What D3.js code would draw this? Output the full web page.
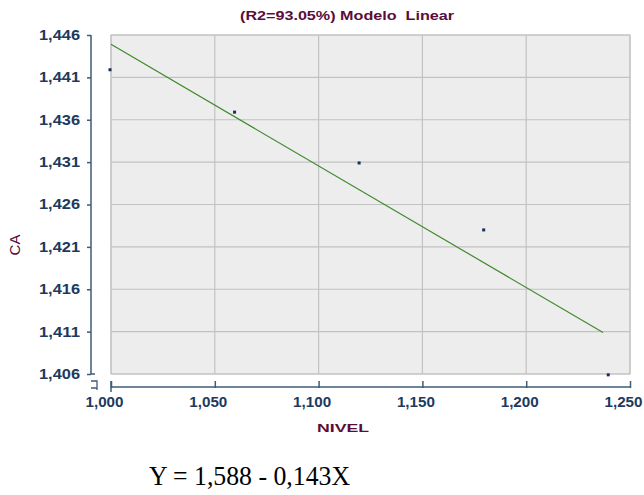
<!DOCTYPE html>
<html><head><meta charset="utf-8">
<script src="https://cdn.jsdelivr.net/npm/d3@7"></script>
<style>body{margin:0;background:#fff}svg{display:block}text{white-space:pre}</style>
</head><body>
<script>
const nivel = [1.000, 1.060, 1.120, 1.180, 1.240];
const ca = [1.4419, 1.4369, 1.4309, 1.4230, 1.4059];
const fitX = [1.000, 1.237];
const fitY = [1.4449, 1.4109];
const yTicks = [1.406, 1.411, 1.416, 1.421, 1.426, 1.431, 1.436, 1.441, 1.446];
const xTicks = [1.000, 1.050, 1.100, 1.150, 1.200, 1.250];
const title = "(R2=93.05%) Modelo  Linear";
const xLabel = "NIVEL", yLabel = "CA";
const equation = "Y = 1,588 - 0,143X";

const W = 644, H = 495;
const svg = d3.select("body").append("svg").attr("width", W).attr("height", H);
const x = d3.scaleLinear().domain([1.0, 1.25]).range([111, 630]);
const y = d3.scaleLinear().domain([1.406, 1.446]).range([374, 35]);
const fmt = v => d3.format(".3f")(v).replace(".", ",");
const maroon = "#5a0d3a", axisC = "#3e5b7a", labC = "#1d3a5e";

// plot background
svg.append("rect").attr("x", x(1.0)).attr("y", y(1.446)).attr("width", x(1.25) - x(1.0))
  .attr("height", y(1.406) - y(1.446)).attr("fill", "#ededed").attr("stroke", "#c2c2c2");
// grid
svg.append("g").selectAll("line").data(yTicks).join("line")
  .attr("x1", x(1.0)).attr("x2", x(1.25)).attr("y1", d => y(d)).attr("y2", d => y(d))
  .attr("stroke", "#c2c2c2").attr("stroke-width", 1.2);
svg.append("g").selectAll("line").data(xTicks).join("line")
  .attr("x1", d => x(d)).attr("x2", d => x(d)).attr("y1", y(1.446)).attr("y2", y(1.406))
  .attr("stroke", "#c2c2c2").attr("stroke-width", 1.2);

// y axis
const yAxis = svg.append("g").attr("transform", "translate(91,0)")
  .call(d3.axisLeft(y).tickValues(yTicks).tickSize(4).tickFormat(fmt));
yAxis.select(".domain").attr("stroke", axisC).attr("stroke-width", 1.5).attr("d", `M0,${y(1.446)}V${y(1.406)}`);
yAxis.selectAll(".tick line").attr("stroke", axisC).attr("stroke-width", 1.5);
yAxis.selectAll(".tick text").attr("x", -11).attr("fill", labC)
  .attr("font-family", "Arial, 'Liberation Sans', sans-serif").attr("font-weight", "bold").attr("font-size", 14)
  .attr("textLength", 41).attr("lengthAdjust", "spacingAndGlyphs");
yAxis.append("line").attr("x1", 0).attr("x2", 4).attr("y1", y(1.406)).attr("y2", y(1.406))
  .attr("stroke", axisC).attr("stroke-width", 1.5);

// x axis
const xAxis = svg.append("g").attr("transform", "translate(0,387)")
  .call(d3.axisBottom(x).tickValues(xTicks).tickSize(-6).tickFormat(fmt));
xAxis.select(".domain").attr("stroke", axisC).attr("stroke-width", 1.5).attr("d", `M${x(1.0)},0H${x(1.25)}`);
xAxis.selectAll(".tick line").attr("stroke", axisC).attr("stroke-width", 1.5).attr("y2", -6).attr("y1", 1);
xAxis.selectAll(".tick text").attr("y", 10).attr("dx", -7).attr("fill", labC)
  .attr("font-family", "Arial, 'Liberation Sans', sans-serif").attr("font-weight", "bold").attr("font-size", 14)
  .attr("textLength", 38).attr("lengthAdjust", "spacingAndGlyphs");
xAxis.append("line").attr("x1", x(1.0)).attr("x2", x(1.0)).attr("y1", -6).attr("y2", 5)
  .attr("stroke", axisC).attr("stroke-width", 1.5);
// axis break marks
svg.append("path").attr("d", "M91,381H97V387 M91,388H97 M97,384V390")
  .attr("fill", "none").attr("stroke", axisC).attr("stroke-width", 1.3);

// regression line
svg.append("path").datum(fitX.map((v, i) => [v, fitY[i]]))
  .attr("d", d3.line().x(d => x(d[0])).y(d => y(d[1])))
  .attr("fill", "none").attr("stroke", "#3f8a2c").attr("stroke-width", 1.2);

// points
svg.append("g").selectAll("rect").data(nivel.map((v, i) => [v, ca[i]])).join("rect")
  .attr("x", d => x(d[0]) - 2.5).attr("y", d => y(d[1]) - 1.5).attr("width", 3).attr("height", 3)
  .attr("fill", "#1b2f5e");

// title and labels
svg.append("text").attr("x", 347).attr("y", 20).attr("text-anchor", "middle")
  .attr("font-family", "Arial, 'Liberation Sans', sans-serif").attr("font-weight", "bold").attr("font-size", 12)
  .attr("fill", maroon).attr("textLength", 214).attr("lengthAdjust", "spacingAndGlyphs").text(title);
svg.append("text").attr("x", 343).attr("y", 432).attr("text-anchor", "middle")
  .attr("font-family", "Arial, 'Liberation Sans', sans-serif").attr("font-weight", "bold").attr("font-size", 11)
  .attr("fill", maroon).attr("textLength", 52).attr("lengthAdjust", "spacingAndGlyphs").text(xLabel);
svg.append("text").attr("transform", "translate(20,245) rotate(-90)").attr("text-anchor", "middle")
  .attr("font-family", "Arial, 'Liberation Sans', sans-serif").attr("font-size", 15)
  .attr("fill", maroon).text(yLabel);
svg.append("text").attr("x", 149).attr("y", 485)
  .attr("font-family", "'Liberation Serif', 'Times New Roman', serif").attr("font-size", 28)
  .attr("fill", "#000").attr("textLength", 201).attr("lengthAdjust", "spacingAndGlyphs").text(equation);
</script>
</body></html>
